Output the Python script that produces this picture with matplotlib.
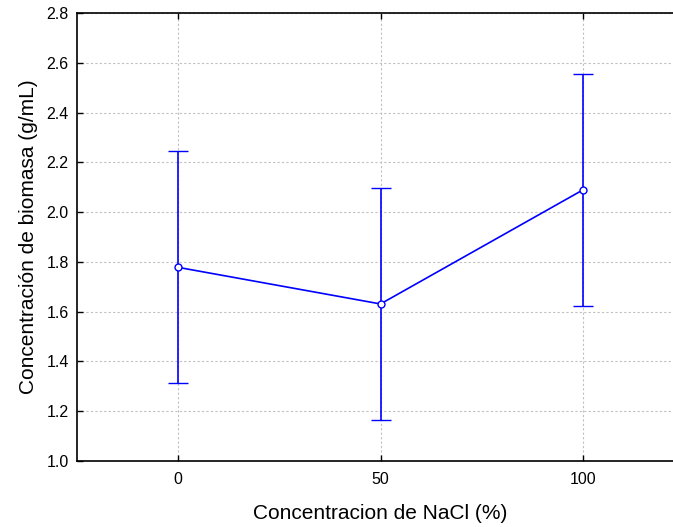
import matplotlib
matplotlib.use("Agg")
import matplotlib.pyplot as plt

plt.rcParams['font.family'] = ['Liberation Sans', 'DejaVu Sans']

categories = ["0", "50", "100"]
means = [1.778, 1.631, 2.089]
errors = [0.466, 0.466, 0.466]
yticks = [1.0, 1.2, 1.4, 1.6, 1.8, 2.0, 2.2, 2.4, 2.6, 2.8]

fig = plt.figure(figsize=(6.73, 5.27), dpi=100)
ax = fig.add_axes([77/673, 66/527, 607/673, 448/527])

x = list(range(len(categories)))
ax.errorbar(x, means, yerr=errors, color='#0000ff', lw=1.2, capsize=7.5,
            capthick=1.2, marker='o', markersize=5, markerfacecolor='white',
            markeredgecolor='#0000ff', markeredgewidth=1.0, zorder=3)

ax.set_xlim(-0.5, 2.5)
ax.set_ylim(1.0, 2.8)
ax.set_xticks(x)
ax.set_xticklabels(categories)
ax.set_yticks(yticks)
ax.set_yticklabels([f"{v:.1f}" for v in yticks])
ax.grid(True, color='#c0c0c0', linestyle=(0, (2, 2)), linewidth=0.8)
ax.set_axisbelow(True)
ax.tick_params(direction='in', length=4, width=1, labelsize=11.5, top=True,
               right=False, pad=8)
ax.tick_params(axis='y', pad=6)
for s in ['left', 'bottom', 'top', 'right']:
    ax.spines[s].set_linewidth(1.2)

ax.set_xlabel("Concentracion de NaCl (%)", fontsize=15, labelpad=12)
ax.set_ylabel("Concentración de biomasa (g/mL)", fontsize=15, labelpad=6)

fig.savefig("out.png", dpi=100)
